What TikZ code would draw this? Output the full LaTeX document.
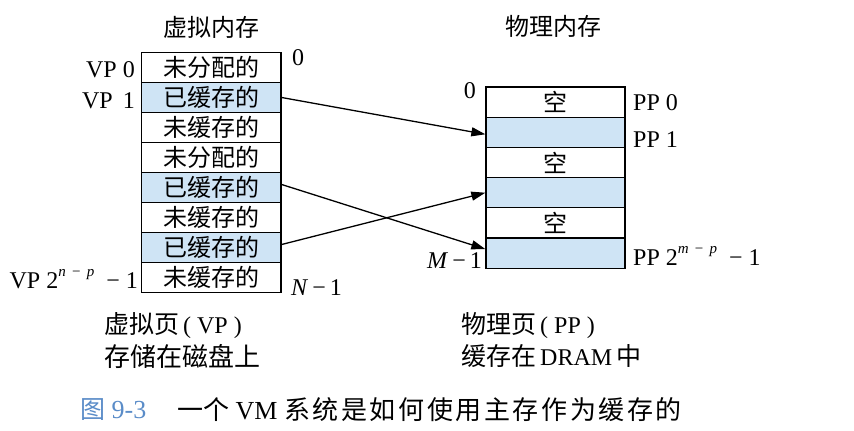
\documentclass[tikz,border=0pt]{standalone}
\usepackage{fontspec}
\setmainfont{Liberation Serif}
\newfontfamily\cjk{Noto Sans CJK SC}
\usetikzlibrary{arrows.meta}
\definecolor{cellblue}{HTML}{CFE4F5}
\definecolor{capblue}{HTML}{5A8CC8}
\newcommand\supexp[1]{\raisebox{0.5em}{\fontsize{15}{15}\selectfont #1}}
\newcommand\zhs[1]{{\cjk\fontsize{25}{25}\selectfont #1}}
\begin{document}
\begin{tikzpicture}[x=1pt,y=-1pt,
  cell/.style={draw, line width=1.3pt, minimum width=139.5pt, minimum height=30pt,
    inner sep=0pt, font=\cjk\fontsize{24}{24}\selectfont},
  pcell/.style={cell, minimum width=139pt, minimum height=30.2pt},
  blue/.style={fill=cellblue},
  lab/.style={font=\fontsize{24}{24}\selectfont, inner sep=0pt},
  zh/.style={font=\cjk\fontsize{24}{24}\selectfont, inner sep=0pt},
  zhb/.style={font=\cjk\fontsize{26}{26}\selectfont, inner sep=0pt},
  arr/.style={line width=1.3pt, -{Triangle[length=14pt,width=9pt]}}]
\useasboundingbox (0,0) rectangle (854,431);
% titles
\node[zh] (vt) at (211,27) {虚拟内存};
\node[zh] (pt) at (553,26) {物理内存};
% virtual memory cells
\node[cell] (v0) at (211.25,67.5) {未分配的};
\node[cell,blue] (v1) at (211.25,97.5) {已缓存的};
\node[cell] (v2) at (211.25,127.5) {未缓存的};
\node[cell] (v3) at (211.25,157.5) {未分配的};
\node[cell,blue] (v4) at (211.25,187.5) {已缓存的};
\node[cell] (v5) at (211.25,217.5) {未缓存的};
\node[cell,blue] (v6) at (211.25,247.5) {已缓存的};
\node[cell] (v7) at (211.25,277.5) {未缓存的};
% physical memory cells
\node[pcell] (p0) at (555.5,102.1) {空};
\node[pcell,blue] (p1) at (555.5,132.3) {};
\node[pcell] (p2) at (555.5,162.5) {空};
\node[pcell,blue] (p3) at (555.5,192.7) {};
\node[pcell] (p4) at (555.5,222.9) {空};
\node[pcell,blue] (p5) at (555.5,253.1) {};
% left labels
\node[lab,anchor=base east] (lvp0) at (135,77) {VP 0};
\node[lab,anchor=base east] (lvp1) at (135,108) {VP\, 1};
\node[lab,anchor=base east] (lvpn) at (138,288) {VP 2\supexp{\textit{n} \,−\, \textit{p}}\enspace− 1};
\node[lab,anchor=base west] (lz) at (292,65) {0};
\node[lab,anchor=base west] (ln) at (291,295) {\textit{N}\,−\,1};
% right labels
\node[lab,anchor=base east] (rz) at (476,98) {0};
\node[lab,anchor=base east] (rm) at (482,268) {\textit{M}\,−\,1};
\node[lab,anchor=base west] (pp0) at (633,110) {PP 0};
\node[lab,anchor=base west] (pp1) at (633,147) {PP 1};
\node[lab,anchor=base west] (ppn) at (633,265) {PP 2\supexp{\textit{m} \,−\, \textit{p}}\enspace− 1};
% arrows
\draw[arr] (v1.east) -- ([yshift=-2pt]p1.west);
\draw[arr] ([yshift=3pt]v4.east) -- ([yshift=4pt]p5.west);
\draw[arr] ([yshift=3pt]v6.east) -- (p3.west);
% bottom texts
\node[lab,anchor=west] (b1) at (104,326) {\zhs{虚拟页}\,( VP )};
\node[zhb,anchor=west] (b2) at (104,356) {存储在磁盘上};
\node[lab,anchor=west] (b3) at (461,326) {\zhs{物理页}\,( PP )};
\node[lab,anchor=west] (b4) at (461,356) {\zhs{缓存在}\,DRAM\,\zhs{中}};
% caption
\node[lab,anchor=west,text=capblue,font=\fontsize{26}{26}\selectfont] (c1) at (80,410) {\zhs{图}~9-3};
\node[lab,anchor=west,font=\fontsize{26}{26}\selectfont] (c2) at (177,410) {{\cjk\fontsize{26}{26}\selectfont 一个}~VM~{\cjk\addfontfeature{LetterSpace=10}\fontsize{26}{26}\selectfont 系统是如何使用主存作为缓存的}};
\end{tikzpicture}
\end{document}
